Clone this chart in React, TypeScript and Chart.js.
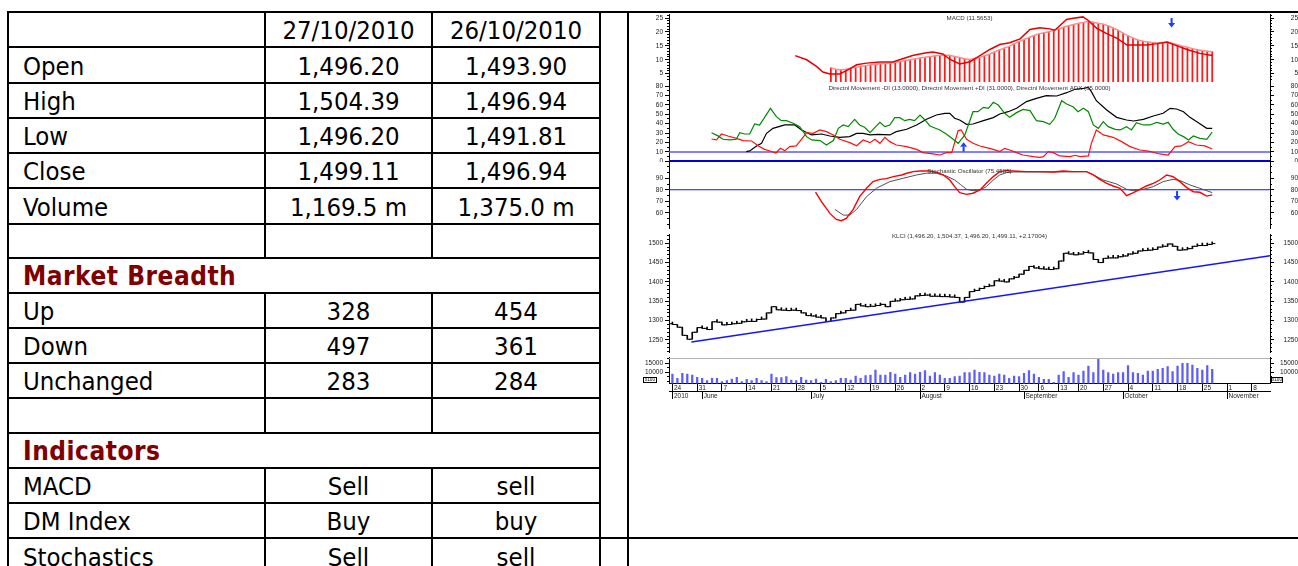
import React, { useEffect, useRef } from 'react';
import { Chart, registerables } from 'chart.js';

Chart.register(...registerables);

// ---------------- table data ----------------
const DATES = ['27/10/2010', '26/10/2010'];
const PRICE_LABELS = ['Open', 'High', 'Low', 'Close', 'Volume'];
const PRICE_TODAY = ['1,496.20', '1,504.39', '1,496.20', '1,499.11', '1,169.5 m'];
const PRICE_PREV = ['1,493.90', '1,496.94', '1,491.81', '1,496.94', '1,375.0 m'];
const BREADTH_LABELS = ['Up', 'Down', 'Unchanged'];
const BREADTH_TODAY = ['328', '497', '283'];
const BREADTH_PREV = ['454', '361', '284'];
const IND_LABELS = ['MACD', 'DM Index', 'Stochastics'];
const IND_TODAY = ['Sell', 'Buy', 'Sell'];
const IND_PREV = ['sell', 'buy', 'sell'];

// ---------------- chart data (x = trading-day index, 0 = 24 May 2010) ----------------
const FIRST_OPEN = 1292;
const CLOSES = [
  1290, 1283, 1262, 1252, 1270, 1282, 1280, 1277, 1297, 1296,
  1289, 1290, 1292, 1293, 1297, 1298, 1298, 1303, 1304, 1320,
  1336, 1328, 1327, 1326, 1327, 1326, 1320, 1313, 1312, 1309,
  1307, 1298, 1307, 1318, 1320, 1326, 1327, 1342, 1338, 1336,
  1337, 1339, 1342, 1336, 1350, 1351, 1354, 1355, 1356, 1364,
  1365, 1366, 1363, 1363, 1362, 1362, 1361, 1360, 1348, 1360,
  1375, 1378, 1383, 1388, 1390, 1403, 1402, 1400, 1408, 1412,
  1420, 1430, 1440, 1436, 1434, 1433, 1432, 1434, 1454, 1474,
  1472, 1470, 1472, 1476, 1475, 1458, 1450, 1461, 1462, 1462,
  1465, 1467, 1472, 1474, 1480, 1481, 1482, 1484, 1490, 1492,
  1498, 1492, 1482, 1483, 1486, 1492, 1494, 1494, 1496.94, 1499.11,
];
const VOLUMES = [
  9070, 6670, 9440, 9070, 8520, 7220, 6670, 5370, 6670, 6670,
  4810, 5370, 6300, 7220, 4810, 6110, 5370, 6670, 5370, 4810,
  9070, 7040, 7040, 7590, 5740, 5370, 7220, 5740, 5370, 6300,
  4440, 6110, 4810, 5370, 6670, 6670, 5740, 7960, 6670, 8150,
  8520, 11300, 8520, 8520, 10000, 9070, 7220, 8520, 9810, 9070,
  10000, 10930, 7960, 9810, 8520, 6670, 6670, 7590, 7960,
  9810, 9810, 11300, 10000, 9810, 8520, 7960, 9070, 8520, 6670,
  7960, 7590, 9440, 10930, 9070, 7220, 6110, 6110, 4440, 8520,
  10370, 7220, 9810, 8520, 10740, 13520, 9810, 17220, 11300, 9810,
  9070, 9810, 9810, 13700, 9810, 9440, 8520, 10740, 10740, 11670,
  12220, 13150, 10370, 13520, 15000, 15000, 14070, 12220, 11300, 13750,
  11695,
];
const MACD_PTS = [
  [24.8, 11.5], [27.1, 10.0], [29.1, 7.6], [30.4, 5.6], [31.8, 4.9], [33.8, 4.9], [35.8, 6.7],
  [37.2, 8.2], [39.2, 8.8], [41.9, 9.2], [44.5, 9.2], [46.5, 10.4], [48.5, 11.5], [51.0, 12.4],
  [52.6, 12.8], [54.6, 12.1], [56.0, 10.2], [58.0, 8.5], [60.1, 9.3], [62.1, 11.5], [64.1, 13.7],
  [66.1, 15.5], [68.1, 16.1], [70.2, 17.5], [72.2, 20.9], [74.2, 21.5], [76.2, 21.1], [77.2, 20.6],
  [79.6, 24.5], [80.9, 24.9], [82.9, 25.4], [83.9, 24.2], [85.7, 21.3], [87.7, 19.4], [89.8, 17.7],
  [91.8, 15.3], [93.0, 15.3], [95.8, 15.3], [97.9, 15.8], [99.9, 16.4], [101.9, 15.0], [103.9, 13.7],
  [106.5, 12.3], [109, 11.57],
];
const SIGNAL_START = 32;
const SIGNAL = [
  7.1, 6.6, 6.4, 6.6, 7.0, 7.3, 7.6, 7.9, 8.2, 8.4,
  8.6, 8.7, 8.8, 9.1, 9.4, 9.7, 10.0, 10.3, 10.6, 10.9,
  11.2, 11.4, 11.6, 11.6, 11.6, 11.2, 10.8, 10.4, 10.1, 10.5,
  10.8, 11.4, 12.0, 12.8, 13.5, 14.2, 14.8, 15.7, 16.5, 17.3,
  18.0, 18.7, 19.3, 19.7, 20.1, 20.6, 21.1, 21.7, 22.2, 22.7,
  23.1, 23.4, 23.8, 23.5, 23.1, 22.8, 22.2, 21.4, 20.6, 19.6,
  18.7, 17.8, 17.1, 16.7, 16.4, 16.2, 16.0, 16.2, 16.3, 15.9,
  15.4, 14.9, 14.5, 14.0, 13.6, 13.3, 13.1, 12.9,
];
const PLUS_DI = [
  [7.9, 30.4], [9.2, 27], [10.2, 23.4], [11.6, 22.7], [12.9, 23.4], [13.6, 30.4], [14.6, 29], [15.6, 29],
  [16.6, 39.6], [17.6, 38.6], [19.8, 56.3], [21.0, 47.4], [22.0, 43.2], [23.0, 43.2], [24.4, 40.4],
  [25.7, 36.8], [27.1, 26.2], [28.1, 22.7], [29.8, 22], [31.1, 17.3], [32.5, 22], [33.5, 35], [34.5, 38.6],
  [35.5, 36.8], [36.8, 44.6], [37.8, 38.6], [38.8, 36.1], [39.9, 30.4], [40.9, 36.1], [41.9, 41.4],
  [42.9, 36.8], [43.9, 38.6], [44.9, 46.4], [45.9, 46.4], [46.9, 43.2], [47.9, 44.6], [48.9, 43.2],
  [50.0, 49.2], [51.0, 43.9], [52.0, 37.5], [54.0, 33.3], [55.3, 29], [56.7, 23.4], [57.7, 19.1],
  [59.05, 28], [60.7, 52.7], [61.7, 52.7], [62.8, 57.3], [63.8, 56.3], [64.8, 62.7], [65.8, 59.8],
  [67.1, 51], [68.1, 46.7], [69.5, 51.7], [70.8, 55.2], [72.2, 53.8], [73.5, 43.2], [74.9, 42.1],
  [76.2, 39.3], [77.2, 45.7], [78.6, 64.4], [79.6, 60.9], [80.9, 58], [81.9, 52.7], [83.0, 56.3],
  [84.0, 52.7], [85.0, 38.6], [86.0, 35], [87.0, 42.1], [88.0, 36.8], [89.4, 34], [90.4, 33.3],
  [91.7, 36.8], [92.7, 33.3], [93.7, 41], [95.1, 38.6], [96.4, 38.6], [97.8, 41.4], [99.1, 39.6],
  [100.1, 41.4], [101.1, 34], [102.1, 29], [103.2, 26.2], [104.2, 22.7], [105.2, 26.9], [106.5, 24.4],
  [107.9, 23.4], [109, 31],
];
const MINUS_DI = [
  [7.9, 23.7], [8.9, 22.7], [9.9, 29], [11.2, 26.9], [12.9, 24.4], [14.3, 22], [16.0, 21.6], [17.3, 16.6],
  [18.6, 12.7], [19.7, 11], [20.9, 8.8], [21.8, 13.8], [22.7, 11.3], [23.7, 15.6], [25.0, 16.3],
  [25.7, 20.9], [27.1, 30.4], [28.4, 29.7], [29.8, 33.3], [31.1, 31.5], [32.5, 28], [33.8, 23.4],
  [35.8, 19.8], [37.2, 16.6], [38.5, 22.7], [39.9, 19.8], [40.9, 23.4], [41.9, 19.1], [42.9, 25.5],
  [43.9, 20.9], [45.2, 17.3], [47.3, 15.6], [49.3, 12.7], [50.6, 9.2], [52.6, 7.8], [54.0, 6.7],
  [55.3, 9.2], [56.4, 9.2], [57.7, 32.6], [58.3, 33.3], [59.4, 23.4], [60.7, 19.1], [62.1, 16.3],
  [63.4, 14.5], [64.8, 12.7], [66.1, 10.3], [67.1, 13.8], [68.1, 12], [69.5, 9.2], [70.8, 6.7],
  [72.9, 5], [74.2, 4.2], [74.9, 5], [75.9, 10.3], [76.9, 9.2], [78.2, 5.7], [80.3, 5], [81.3, 6.4],
  [82.3, 5], [84.0, 5.7], [84.6, 19.1], [85.6, 33.3], [87.0, 28], [89.0, 25.5], [90.7, 20.9],
  [92.4, 15.6], [94.4, 12], [96.4, 10.6], [98.4, 7.8], [100.1, 6.7], [101.5, 15.6], [102.8, 16.3],
  [104.2, 20.9], [105.8, 17.3], [107.5, 16.3], [109, 13],
];
const ADX = [
  [14.9, 10.3], [15.6, 11], [17.0, 16.3], [18.0, 19.1], [19.0, 29.7], [20.3, 35], [22.7, 38.6],
  [24.7, 38.6], [26.1, 33.3], [28.1, 28], [30.1, 29], [31.8, 26.9], [33.8, 25.5], [35.8, 26.2],
  [37.2, 29.7], [38.5, 29.7], [39.9, 28], [41.5, 28.7], [43.9, 28], [45.2, 31.5], [47.3, 34],
  [49.3, 38.6], [51.3, 44.6], [53.3, 49.2], [55.0, 51], [56.0, 51], [57.0, 45.7], [58.0, 43.9],
  [59.4, 39.3], [60.7, 39.6], [62.8, 43.2], [64.8, 46.4], [66.1, 50.3], [67.8, 52.7], [69.5, 56.3],
  [71.5, 63.4], [73.5, 66.9], [75.5, 69.7], [77.6, 69.4], [79.6, 72.9], [81.3, 76.5], [83.0, 77.5],
  [84.0, 78.6], [84.6, 74], [85.6, 64.4], [87.7, 54.5], [89.7, 46.7], [91.7, 43.9], [93.1, 42.8],
  [95.1, 44.6], [97.1, 48.1], [99.1, 51], [100.5, 56.3], [101.8, 55.6], [103.2, 52.7], [104.5, 46.7],
  [106.2, 41], [107.9, 35], [109, 35],
];
const STOCH_K = [
  [28.9, 78], [30.1, 69.6], [31.8, 59.4], [33.1, 54.1], [34.1, 53], [35.1, 55], [36.5, 62.9],
  [37.8, 74], [39.2, 81.3], [40.5, 87.1], [41.9, 89.1], [43.2, 89.7], [44.6, 91.5], [46.3, 92.9],
  [47.3, 94.4], [48.6, 95.8], [50.0, 96.4], [52.0, 96.4], [53.0, 95.5], [54.7, 92.9], [56.0, 88.5],
  [57.0, 82.7], [58.0, 77.5], [59.4, 76], [60.7, 77], [62.1, 79.8], [63.4, 85.6], [64.8, 91.5],
  [66.1, 95.8], [67.5, 96.7], [68.8, 96.4], [71.5, 95.8], [74.2, 95.8], [76.9, 95.5], [78.9, 96.4],
  [80.9, 95.8], [83.6, 95.8], [85.0, 92.9], [86.3, 89.1], [87.7, 85.6], [89.0, 83.3], [90.4, 81.3],
  [91.7, 74.8], [93.1, 77.5], [94.4, 80.4], [95.7, 83.3], [97.1, 85.6], [98.4, 88.5], [99.8, 92.9],
  [101.1, 91.5], [102.5, 87.1], [103.8, 82.1], [105.2, 78.3], [106.5, 77.8], [107.9, 74.5], [109, 75.5],
];
const STOCH_D = [
  [32.8, 62.9], [34.5, 57.9], [35.8, 57.9], [37.2, 62.9], [39.2, 74], [41.2, 81.3], [43.9, 87.1],
  [46.6, 90], [49.3, 92.9], [51.3, 94.4], [53.3, 94.4], [55.3, 92], [57.0, 88.5], [58.2, 84.5],
  [59.4, 80.4], [60.7, 79.2], [62.1, 79.8], [63.4, 82.7], [64.8, 88.5], [66.1, 92.9], [67.5, 95],
  [68.8, 95.5], [71.5, 95.5], [74.2, 95.5], [78.2, 95.5], [83.6, 95.8], [85.0, 92.9], [87.0, 88.5],
  [89.7, 85], [91.7, 80.4], [93.1, 79.2], [95.1, 80.4], [97.1, 82.7], [99.1, 87.1], [101.1, 89.1],
  [102.5, 88], [104.5, 84.2], [106.5, 81.3], [109, 77.5],
];
const TREND = [[3.84, 1245], [120.67, 1467.6]];
const DMI_LEVELS = [10, 0];
const STOCH_LEVEL = 80;
const ARROW_MACD = { x: 100.8, y: 23.2, dir: 'down' };
const ARROW_DMI = { x: 58.8, y: 15.5, dir: 'up' };
const ARROW_STOCH = { x: 101.9, y: 74.5, dir: 'down' };

const DAY_TICKS = [0, 5, 10, 15, 20, 25, 30, 35, 40, 45, 50, 55, 60, 65, 70, 74, 78, 82, 87, 92, 97, 102, 107, 112, 117];
const DAY_LABELS = ['24', '31', '7', '14', '21', '28', '5', '12', '19', '26', '2', '9', '16', '23', '30', '6', '13', '20', '27', '4', '11', '18', '25', '1', '8'];
const MONTH_TICKS = [0, 6, 28, 50, 71, 91, 112];
const MONTH_LABELS = ['2010', 'June', 'July', 'August', 'September', 'October', 'November'];

const MACD_TICKS = [5, 10, 15, 20, 25];
const DMI_TICKS = [0, 10, 20, 30, 40, 50, 60, 70, 80];
const STOCH_TICKS = [60, 70, 80, 90];
const PRICE_TICKS = [1250, 1300, 1350, 1400, 1450, 1500];
const VOL_TICKS = [10000, 15000];

const TITLE_MACD = 'MACD (11.5653)';
const TITLE_DMI = 'Directnl Movement -DI (13.0000), Directnl Movement +DI (31.0000), Directnl Movement ADX (35.0000)';
const TITLE_STOCH = 'Stochastic Oscillator (75.4585)';
const TITLE_PRICE = 'KLCI (1,496.20, 1,504.37, 1,496.20, 1,499.11, +2.17004)';
const UNIT_LABEL = 'x100';

// ---------------- chart helpers ----------------
const X_MIN = -0.69;
const X_MAX = 120.67;
const AX_FONT = '"Liberation Sans", Arial, sans-serif';
const LABEL_PX = 6.5;
const DIGIT_W = 0.556 * LABEL_PX;

const pts = (a: number[][]) => a.map(([x, y]) => ({ x, y }));

function vScales(min: number, max: number, major: number[], minorStep: number, rightChars: number) {
  const mk = (position: 'left' | 'right', isMajor: boolean) => ({
    type: 'linear',
    position,
    min,
    max,
    weight: isMajor ? 1 : 0,
    border: { display: isMajor, color: '#000', width: 1 },
    grid: {
      drawOnChartArea: false,
      drawTicks: true,
      tickLength: isMajor ? 4 : 2,
      tickColor: '#000',
      tickWidth: 1,
      offset: false,
    },
    ticks: {
      display: isMajor,
      font: { family: AX_FONT, size: LABEL_PX },
      color: '#222',
      padding: position === 'left' ? 2 : 18.5 - rightChars * DIGIT_W,
      crossAlign: position === 'right' ? 'far' : 'near',
      includeBounds: false,
      autoSkip: false,
      callback: (v: number) => String(v),
    },
    afterBuildTicks: (ax: any) => {
      if (isMajor) {
        ax.ticks = major.map((v) => ({ value: v }));
      } else {
        const t: any[] = [];
        for (let v = Math.ceil(min / minorStep) * minorStep; v <= max + 1e-9; v += minorStep) t.push({ value: +v.toFixed(6) });
        ax.ticks = t;
      }
    },
    afterFit: (ax: any) => {
      ax.width = isMajor ? (position === 'left' ? 39 : 28) : 0;
      ax.paddingTop = 0;
      ax.paddingBottom = 0;
    },
  });
  return { yl: mk('left', true), ylm: mk('left', false), yr: mk('right', true), yrm: mk('right', false) };
}

const xHidden = { type: 'linear', min: X_MIN, max: X_MAX, display: false, offset: false, grid: { offset: false } };

function drawArrow(ctx: CanvasRenderingContext2D, x: number, y: number, dir: string) {
  const s = dir === 'down' ? 1 : -1;
  ctx.fillStyle = '#1e3cff';
  ctx.fillRect(x - 1, y - 5 * s, 2, 5 * s);
  ctx.beginPath();
  ctx.moveTo(x - 3.5, y);
  ctx.lineTo(x + 3.5, y);
  ctx.lineTo(x, y + 4.5 * s);
  ctx.closePath();
  ctx.fill();
}

function decor(cfg: any) {
  return {
    id: 'decor',
    afterDraw(chart: any) {
      const { ctx, chartArea: a, scales } = chart;
      ctx.save();
      if (cfg.topLine) {
        ctx.strokeStyle = '#b4b4b4';
        ctx.lineWidth = 1;
        ctx.beginPath();
        ctx.moveTo(a.left, a.top + 1.5);
        ctx.lineTo(a.right, a.top + 1.5);
        ctx.stroke();
      }
      if (cfg.arrow) {
        const px = scales.x.getPixelForValue(cfg.arrow.x);
        const py = scales.yl.getPixelForValue(cfg.arrow.y);
        drawArrow(ctx, px, py, cfg.arrow.dir);
      }
      if (cfg.title) {
        ctx.font = `6.2px ${AX_FONT}`;
        ctx.fillStyle = '#333';
        ctx.textAlign = 'center';
        ctx.textBaseline = 'middle';
        ctx.fillText(cfg.title, (a.left + a.right) / 2, a.top + cfg.titleDy);
      }
      if (cfg.unitBoxes) {
        ctx.strokeStyle = '#000';
        ctx.lineWidth = 1;
        ctx.font = `4.6px ${AX_FONT}`;
        ctx.fillStyle = '#000';
        ctx.textAlign = 'center';
        ctx.textBaseline = 'middle';
        const y = a.top + 20;
        ctx.strokeRect(a.left - 25.5, y + 0.5, 13, 5);
        ctx.fillText(UNIT_LABEL, a.left - 19, y + 3);
        ctx.strokeRect(a.right + 1.5, y + 0.5, 11, 5);
        ctx.fillText(UNIT_LABEL, a.right + 7, y + 3);
      }
      ctx.restore();
    },
  };
}

function baseOptions(scales: any) {
  return {
    responsive: false,
    animation: false,
    devicePixelRatio: 1,
    events: [],
    layout: { padding: 0 },
    plugins: { legend: { display: false }, tooltip: { enabled: false }, title: { display: false } },
    scales,
  };
}

const lineDs = (data: any[], color: string, width: number, extra: any = {}) => ({
  type: 'line',
  data,
  borderColor: color,
  borderWidth: width,
  pointRadius: 0,
  tension: 0,
  yAxisID: 'yl',
  ...extra,
});

const levelLine = (v: number) => [
  { x: X_MIN, y: v },
  { x: X_MAX, y: v },
];

function buildMacd() {
  const sig = SIGNAL.map((v, i) => ({ x: SIGNAL_START + i, y: v }));
  return {
    type: 'line',
    data: {
      datasets: [
        lineDs(pts(MACD_PTS), '#e80000', 1.5),
        lineDs(sig, '#ff8c8c', 1.5),
        { type: 'bar', data: sig, backgroundColor: '#ff1a1a', barThickness: 1.1, yAxisID: 'yl' },
      ],
    },
    options: baseOptions({ x: xHidden, ...vScales(2.02, 26.44, MACD_TICKS, 1, 2) }),
    plugins: [decor({ title: TITLE_MACD, titleDy: 4, arrow: ARROW_MACD })],
  };
}

function buildDmi() {
  return {
    type: 'line',
    data: {
      datasets: [
        lineDs(pts(PLUS_DI), '#008a00', 1.2),
        lineDs(pts(MINUS_DI), '#ff1010', 1.2),
        lineDs(pts(ADX), '#000', 1.2),
        lineDs(levelLine(DMI_LEVELS[0]), '#5a5aff', 1.5),
        lineDs(levelLine(DMI_LEVELS[1]), '#0000d8', 2.6),
      ],
    },
    options: baseOptions({ x: xHidden, ...vScales(-0.74, 84.25, DMI_TICKS, 5, 2) }),
    plugins: [decor({ title: TITLE_DMI, titleDy: 6, arrow: ARROW_DMI })],
  };
}

function buildStoch() {
  return {
    type: 'line',
    data: {
      datasets: [
        lineDs(pts(STOCH_K), '#ff0000', 1.4),
        lineDs(pts(STOCH_D), '#505050', 1),
        lineDs(levelLine(STOCH_LEVEL), '#1010ff', 1.2),
      ],
    },
    options: baseOptions({ x: xHidden, ...vScales(45.8, 104.2, STOCH_TICKS, 5, 2) }),
    plugins: [decor({ title: TITLE_STOCH, titleDy: 9.7, arrow: ARROW_STOCH })],
  };
}

function buildPrice() {
  const opens = CLOSES.map((c, i) => (i === 0 ? FIRST_OPEN : CLOSES[i - 1]));
  return {
    type: 'line',
    data: {
      datasets: [
        lineDs(pts(TREND), '#1414ff', 1.4),
        lineDs(CLOSES.map((c, i) => ({ x: i + 0.32, y: c })), '#000', 1, { showLine: false, pointStyle: 'line', pointRadius: 1.6, pointBorderWidth: 1 }),
        lineDs(opens.map((o, i) => ({ x: i - 0.32, y: o })), '#000', 1, { showLine: false, pointStyle: 'line', pointRadius: 1.6, pointBorderWidth: 1 }),
        { type: 'bar', data: CLOSES.map((c, i) => ({ x: i, y: [opens[i], c] })), backgroundColor: '#000', barThickness: 1, minBarLength: 2.5, yAxisID: 'yl' },
      ],
    },
    options: baseOptions({ x: xHidden, ...vScales(1219, 1523.8, PRICE_TICKS, 10, 4) }),
    plugins: [decor({ title: TITLE_PRICE, titleDy: 2.7 })],
  };
}

function buildVolume() {
  const tickFont = { family: AX_FONT, size: LABEL_PX };
  const xAxis = (ticks: number[], labels: string[], weight: number, tl: number, pad: number, h: number) => ({
    type: 'linear',
    position: 'bottom',
    min: X_MIN,
    max: X_MAX,
    weight,
    offset: false,
    border: { display: true, color: '#000', width: 1 },
    grid: { drawOnChartArea: false, offset: false, tickLength: tl, tickColor: '#000', tickWidth: 1 },
    ticks: {
      align: 'start',
      labelOffset: 1.5,
      padding: pad,
      font: tickFont,
      color: '#222',
      maxRotation: 0,
      minRotation: 0,
      autoSkip: false,
      includeBounds: false,
      callback: (_v: number, i: number) => labels[i],
    },
    afterBuildTicks: (ax: any) => {
      ax.ticks = ticks.map((v) => ({ value: v }));
    },
    afterFit: (ax: any) => {
      ax.height = h;
      ax.paddingLeft = 0;
      ax.paddingRight = 0;
    },
  });
  return {
    type: 'line',
    data: {
      datasets: [{ type: 'bar', data: VOLUMES.map((v, i) => ({ x: i, y: v })), backgroundColor: '#5c5cff', barThickness: 1.6, yAxisID: 'yl' }],
    },
    options: baseOptions({
      x: xAxis(DAY_TICKS, DAY_LABELS, 0, 8, -7.5, 7.5),
      x2: xAxis(MONTH_TICKS, MONTH_LABELS, 1, 8, -6.5, 11),
      ...vScales(3780, 18500, VOL_TICKS, 2500, 5),
    }),
    plugins: [decor({ topLine: true, unitBoxes: true })],
  };
}

function Panel({ top, height, build }: { top: number; height: number; build: () => any }) {
  const ref = useRef<HTMLCanvasElement>(null);
  useEffect(() => {
    const chart = new Chart(ref.current as HTMLCanvasElement, build());
    return () => chart.destroy();
  }, []);
  return (
    <canvas
      ref={ref}
      width={668}
      height={height}
      style={{ position: 'absolute', left: 630, top, width: 668, height, display: 'block' }}
    />
  );
}

// ---------------- table layout ----------------
const GX = [8, 265, 432, 600, 628, 1300];
const GY = [12, 47, 83, 118, 153, 188, 224, 258, 293, 328, 363, 398, 433, 468, 503, 538, 574];
const TABLE_FONT = '"DejaVu Sans Condensed", "DejaVu Sans", sans-serif';

function Cell(props: { c1: number; c2: number; r1: number; r2: number; text?: string; left?: boolean; head?: boolean }) {
  const { c1, c2, r1, r2, text, left, head } = props;
  const x1 = GX[c1], x2 = GX[c2], y1 = GY[r1], y2 = GY[r2];
  return (
    <div
      style={{
        position: 'absolute',
        left: x1 - 1,
        top: y1 - 1,
        width: x2 - x1 + 2,
        height: y2 - y1 + 2,
        border: '2px solid #000',
        boxSizing: 'border-box',
        display: 'flex',
        alignItems: 'center',
        justifyContent: left ? 'flex-start' : 'center',
        paddingLeft: left ? 14 : 0,
        paddingTop: 1,
        fontFamily: TABLE_FONT,
        fontSize: head ? 26 : 25.5,
        letterSpacing: head ? 0.5 : 0,
        fontWeight: head ? 'bold' : 'normal',
        color: head ? '#800000' : '#000',
        whiteSpace: 'nowrap',
        overflow: 'hidden',
      }}
    >
      {text}
    </div>
  );
}

export default function App() {
  const cells: any[] = [];
  let k = 0;
  const row3 = (r: number, a: string, b: string, c: string) => {
    cells.push(<Cell key={k++} c1={0} c2={1} r1={r} r2={r + 1} text={a} left />);
    cells.push(<Cell key={k++} c1={1} c2={2} r1={r} r2={r + 1} text={b} />);
    cells.push(<Cell key={k++} c1={2} c2={3} r1={r} r2={r + 1} text={c} />);
  };
  row3(0, '', DATES[0], DATES[1]);
  PRICE_LABELS.forEach((l, i) => row3(1 + i, l, PRICE_TODAY[i], PRICE_PREV[i]));
  row3(6, '', '', '');
  cells.push(<Cell key={k++} c1={0} c2={3} r1={7} r2={8} text="Market Breadth" left head />);
  BREADTH_LABELS.forEach((l, i) => row3(8 + i, l, BREADTH_TODAY[i], BREADTH_PREV[i]));
  row3(11, '', '', '');
  cells.push(<Cell key={k++} c1={0} c2={3} r1={12} r2={13} text="Indicators" left head />);
  IND_LABELS.forEach((l, i) => row3(13 + i, l, IND_TODAY[i], IND_PREV[i]));
  cells.push(<Cell key={k++} c1={3} c2={4} r1={0} r2={15} />);
  cells.push(<Cell key={k++} c1={4} c2={5} r1={0} r2={15} />);
  cells.push(<Cell key={k++} c1={3} c2={4} r1={15} r2={16} />);
  cells.push(<Cell key={k++} c1={4} c2={5} r1={15} r2={16} />);

  return (
    <div style={{ position: 'absolute', left: 0, top: 0, width: 1298, height: 566, background: '#fff', overflow: 'hidden' }}>
      {cells}
      <Panel top={14} height={68} build={buildMacd} />
      <Panel top={82} height={80} build={buildDmi} />
      <Panel top={162} height={67} build={buildStoch} />
      <Panel top={229} height={128} build={buildPrice} />
      <Panel top={357} height={45} build={buildVolume} />
    </div>
  );
}
